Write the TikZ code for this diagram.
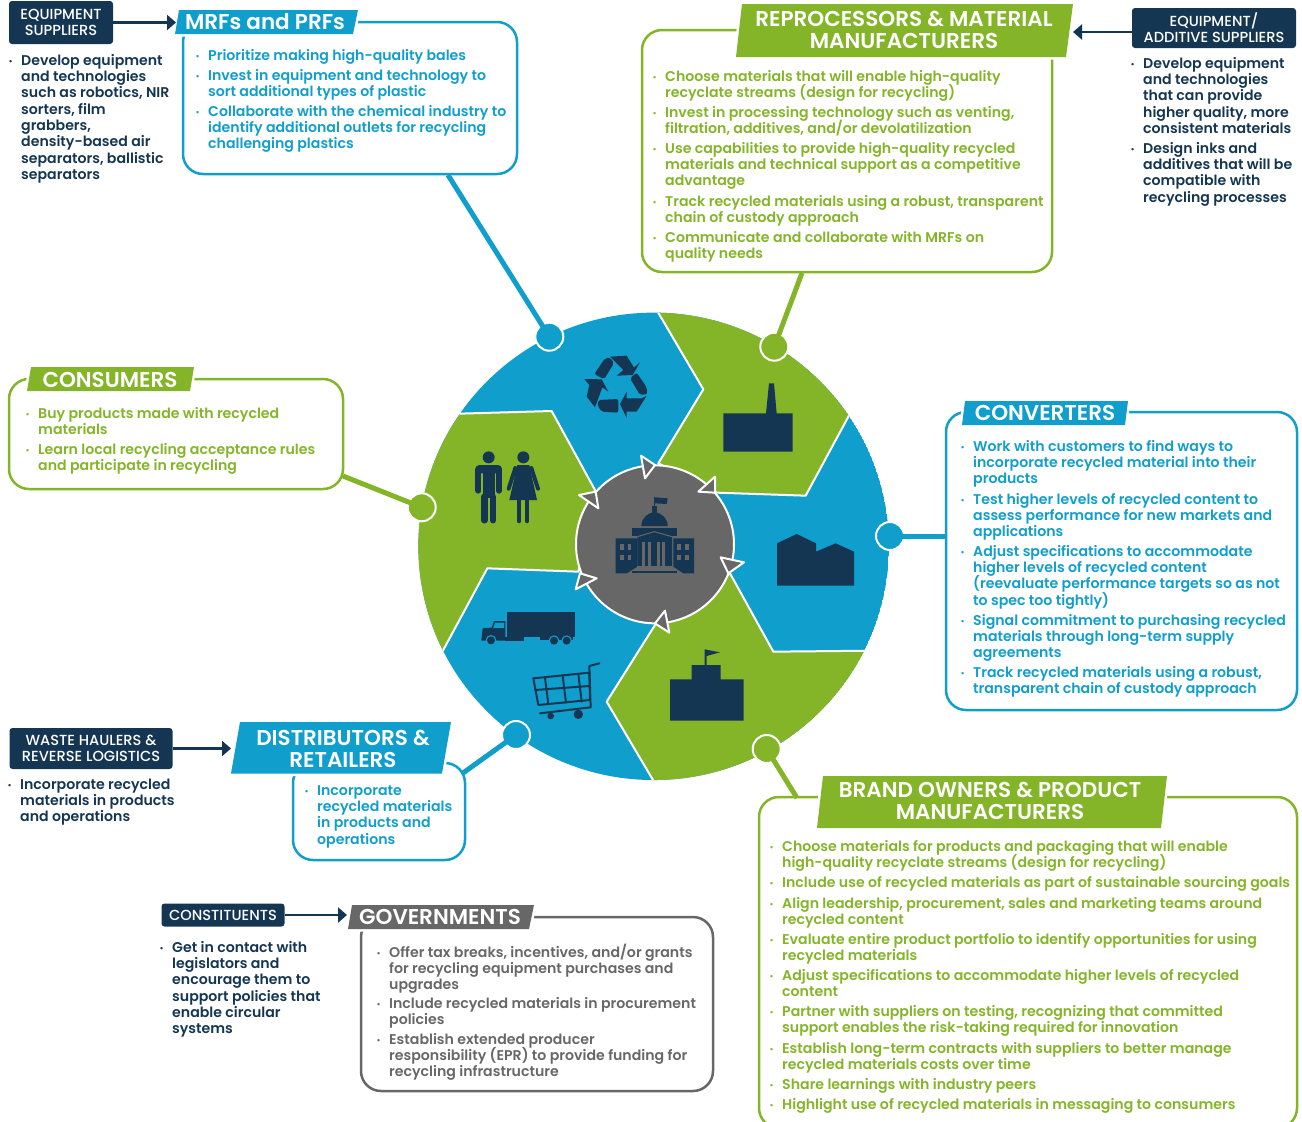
\documentclass[tikz,border=0pt]{standalone}
\usepackage{fontspec}
\setmainfont{Poppins}
\newfontfamily\bodyfont{Poppins SemiBold}
\newfontfamily\headfont{Poppins SemiBold}
\newfontfamily\tagfont{Poppins Medium}
\usetikzlibrary{arrows.meta}
\definecolor{cblue}{RGB}{16,158,204}
\definecolor{cgreen}{RGB}{132,181,41}
\definecolor{cnavy}{RGB}{20,54,82}
\definecolor{cgray}{RGB}{103,103,103}
\tikzset{
  every node/.append style={execute at begin node={\lineskiplimit=-50pt }},
  bxs/.style={draw=#1,line width=2.5pt,rounded corners=20pt,inner sep=0pt},
  srcbox/.style={fill=cnavy,rounded corners=3pt,inner sep=0pt,text=white,align=center,
     font=\tagfont\fontsize{14.6}{16}\selectfont},
  headtxt/.style={text=white,align=center,inner sep=0pt,
     font=\headfont\fontsize{21.5}{21.5}\selectfont},
  hdr/.style={fill=#1,preaction={draw=white,line width=5pt}},
  body/.style={anchor=north west,inner sep=0pt,align=left,text=#1,
     font=\bodyfont\fontsize{14.14}{16.3}\selectfont},
  pinn/.style={circle,fill=#1,draw=white,line width=2pt,minimum size=28pt,inner sep=0pt},
  conn/.style={draw=#1,line width=5pt,shorten >=-3pt},
  arr/.style={draw=cnavy,line width=2.4pt,-{Triangle[length=9pt,width=15pt]}},
  tri/.style={fill=cgray,draw=white,line width=2pt,line join=round},
  ink/.style={fill=cnavy},
  stroke/.style={draw=cnavy,line width=#1,line cap=round},
  seg/.style={fill=cgreen,draw=white,line width=2pt,line join=round},
}
\newcommand{\bxn}[6]{%
  \pgfmathsetmacro{\bw}{#4-#2}\pgfmathsetmacro{\bh}{#5-#3}%
  \pgfmathsetmacro{\bcx}{(#4+#2)/2}\pgfmathsetmacro{\bcy}{(#5+#3)/2}%
  \node[bxs=#6,minimum width=\bw pt,minimum height=\bh pt] (#1) at (\bcx,\bcy) {};}
\newcommand{\itm}[5]{\node[body=#4] (#1) at (#2,#3-6.4) {\strut\llap{\raisebox{1pt}{\scalebox{.6}{•}}\hspace{8.5pt}}#5};}
\begin{document}
\begin{tikzpicture}[x=1pt,y=-1pt]
\useasboundingbox (0,0) rectangle (1302,1122);

% central wheel, in coordinates of 1/3 px
\begin{scope}[shift={(410,300)},x=.33333pt,y=-.33333pt]
  \begin{scope}
    \clip (731,739) circle[x radius=235.3pt,y radius=233.7pt];
    \fill[cblue] (731,739) circle[x radius=235.3pt,y radius=233.7pt];
    \path[seg] (677,-77) -- (880,268) -- (745,490) -- (920,578) -- (1187,587) -- (1380,230) -- (1500,-100) -- cycle;
    \path[seg] (1600,1050) -- (1090,1055) -- (960,820) -- (735,975) -- (590,1205) -- (800,1560) -- (1600,1560) -- cycle;
    \path[seg] (-60,347) -- (425,333) -- (555,570) -- (505,815) -- (232,805) -- (35,1170) -- (-100,1200) -- (-100,347) -- cycle;
  \end{scope}
  \fill[cgray,draw=white,line width=2pt] (735,733) circle[radius=237pt*.33333];
  \path[tri] (693,467) -- (735,495) -- (705,535) -- cycle;
  \path[tri] (915,530) -- (865,575) -- (915,578) -- cycle;
  \path[tri] (932,772) -- (1002,787) -- (955,820) -- cycle;
  \path[tri] (765,932) -- (735,970) -- (778,998) -- cycle;
  \path[tri] (560,835) -- (510,820) -- (497,868) -- cycle;
  \path[tri] (507,585) -- (557,575) -- (565,625) -- cycle;
  % factory
  \fill[ink] (940,340) -- (1068,340) -- (1077,250) -- (1092,250) -- (1100,340) -- (1148,340) -- (1148,455) -- (940,455) -- cycle;
  % converter building
  \fill[ink] (1101,730) -- (1160,702) -- (1218,730) -- (1218,755) -- (1277,730) -- (1332,755) -- (1332,857) -- (1101,857) -- cycle;
  % brand owner building
  \fill[ink] (780,1138) -- (845,1138) -- (845,1095) -- (884,1095) -- (884,1048) -- (930,1057) -- (890,1068) -- (890,1095) -- (932,1095) -- (932,1138) -- (1001,1138) -- (1001,1262) -- (780,1262) -- cycle;
  % man
  \fill[ink] (236,472) circle[radius=18pt*.33333];
  \fill[ink,rounded corners=4pt] (196,495) rectangle (276,520);
  \draw[stroke=6pt] (205,510) -- (205,572);
  \draw[stroke=6pt] (267,510) -- (267,572);
  \fill[ink] (218,500) rectangle (254,595);
  \draw[stroke=6.4pt] (223,590) -- (223,661);
  \draw[stroke=6.4pt] (249,590) -- (249,661);
  % woman
  \fill[ink] (340,472) circle[radius=18pt*.33333];
  \fill[ink] (322,495) -- (358,495) -- (381,600) -- (298,600) -- cycle;
  \draw[stroke=4pt] (316,504) -- (296,566);
  \draw[stroke=4pt] (364,504) -- (384,566);
  \draw[stroke=4.6pt] (327,600) -- (327,663);
  \draw[stroke=4.6pt] (351,600) -- (351,663);
  % truck
  \fill[ink] (292,936) rectangle (494,1012);
  \fill[ink] (286,1022) -- (214,1022) -- (218,985) -- (245,983) -- (252,963) -- (286,963) -- cycle;
  \fill[cblue] (255,968) -- (282,968) -- (282,984) -- (250,984) -- cycle;
  \fill[ink] (286,1012) rectangle (342,1022);
  \fill[ink] (390,1008) rectangle (490,1020);
  \foreach \wx/\wy in {243/1021,432/1022,470/1022}{
    \fill[cblue] (\wx,\wy) circle[radius=16pt*.33333];
    \fill[ink] (\wx,\wy) circle[radius=12pt*.33333];
  }
  % cart
  \draw[stroke=2pt,line join=round] (568,1090) -- (538,1098) -- (542,1222) -- (390,1240);
  \draw[stroke=2pt,line join=round] (370,1135) -- (538,1118) -- (540,1200) -- (385,1215) -- cycle;
  \draw[stroke=2pt] (405,1133) -- (415,1212);
  \draw[stroke=2pt] (458,1128) -- (468,1208);
  \draw[stroke=2pt] (505,1122) -- (515,1205);
  \draw[stroke=2pt] (375,1170) -- (538,1158);
  \fill[ink] (422,1248) circle[radius=10pt*.33333];
  \fill[ink] (505,1243) circle[radius=14pt*.33333];
  % recycling symbol
  \fill[ink,rounded corners=2pt] (553,222) -- (585,175) -- (600,172) -- (612,190) -- (582,238) -- cycle;
  \fill[ink] (600,170) -- (650,167) -- (672,203) -- (690,187) -- (668,225) -- (620,227) -- (640,210) -- cycle;
  \fill[ink,rounded corners=2pt] (660,235) -- (680,218) -- (710,262) -- (712,282) -- (690,285) -- cycle;
  \fill[ink] (710,287) -- (680,335) -- (650,335) -- (650,354) -- (630,312) -- (650,275) -- (650,295) -- (695,295) -- cycle;
  \fill[ink,rounded corners=2pt] (565,300) -- (625,297) -- (625,338) -- (575,335) -- (563,318) -- cycle;
  \fill[ink] (523,237) -- (575,238) -- (595,275) -- (577,262) -- (555,322) -- (530,290) -- (538,255) -- cycle;
  % capitol
  \fill[ink] (617,715) -- (682,715) -- (682,800) -- (650,820) -- (617,820) -- cycle;
  \fill[ink] (790,715) -- (852,715) -- (852,820) -- (820,820) -- (790,800) -- cycle;
  \fill[ink] (667,685) rectangle (802,708);
  \fill[ink] (694,678) arc[start angle=180,end angle=0,x radius=13.2pt,y radius=13.5pt] -- cycle;
  \fill[ink] (725,618) rectangle (742,640);
  \fill[ink] (731,590) rectangle (736,628);
  \fill[ink] (735,592) -- (773,595) -- (770,612) -- (735,610) -- cycle;
  \fill[ink] (682,708) -- (733,690) -- (786,708) -- (786,800) -- (682,800) -- cycle;
  \fill[ink] (665,812) rectangle (802,820);
  \draw[cgray,line width=1pt] (682,710) -- (733,695) -- (786,710);
  \foreach \gx in {697,740}{\fill[cgray] (\gx,725) rectangle +(9,75);\fill[cgray] (\gx+16,725) rectangle +(9,75);}
  \draw[cgray,line width=1pt] (682,800) -- (786,800);
  \foreach \gx/\gy in {630/733,653/733,630/765,653/765,802/733,825/733,802/765,825/765}{
    \fill[cgray] (\gx,\gy) rectangle +(11,16);}
\end{scope}

% pins on the wheel
\node[pinn=cblue] (pmrf) at (549.3,336.7) {};
\node[pinn=cgreen] (prep) at (774.3,346.7) {};
\node[pinn=cblue] (pcon) at (890,536) {};
\node[pinn=cgreen] (pbrand) at (766.7,749) {};
\node[pinn=cblue] (pdist) at (516,735) {};
\node[pinn=cgreen] (pcons) at (421.7,507.3) {};

% outlined boxes
\bxn{bmrf}{183}{22}{517}{174}{cblue}
\bxn{brep}{642}{30}{1052}{272}{cgreen}
\bxn{bcon}{946}{412}{1297}{710}{cblue}
\bxn{bbrand}{759}{797}{1297}{1128}{cgreen}
\bxn{bdist}{293}{763}{465}{860}{cblue}
\bxn{bgov}{361}{917}{713}{1091}{cgray}
\bxn{bcons}{9}{379}{343}{489}{cgreen}

% connectors from boxes to pins
\coordinate (cmrf) at (448,175);
\coordinate (crep) at (802,273);
\coordinate (ccon) at (946,536);
\coordinate (cbrand) at (797,798);
\coordinate (cdist) at (463,773);
\coordinate (ccons) at (343,476);
\draw[conn=cblue] (cmrf) -- (pmrf);
\draw[conn=cgreen] (crep) -- (prep);
\draw[conn=cblue] (ccon) -- (pcon);
\draw[conn=cgreen] (cbrand) -- (pbrand);
\draw[conn=cblue] (cdist) -- (pdist);
\draw[conn=cgreen] (ccons) -- (pcons);

% headers
\path[hdr=cblue] (179,10) -- (358,10) -- (353,34) -- (175,34) -- cycle;
\node[headtxt] (hmrf) at (265,21.5) {MRFs and PRFs};
\path[hdr=cgreen] (742,4) -- (1073,4) -- (1066,57) -- (736,57) -- cycle;
\node[headtxt] (hrep) at (904,30) {REPROCESSORS \& MATERIAL\\MANUFACTURERS};
\path[hdr=cgreen] (31,367) -- (194,367) -- (190,391) -- (27,391) -- cycle;
\node[headtxt] (hcons) at (110,379.5) {CONSUMERS};
\path[hdr=cblue] (965,401) -- (1128,401) -- (1125,425) -- (962,425) -- cycle;
\node[headtxt] (hcon) at (1045,413) {CONVERTERS};
\path[hdr=cgreen] (823,776) -- (1167,776) -- (1161,828) -- (817,828) -- cycle;
\node[headtxt] (hbrand) at (990,801) {BRAND OWNERS \& PRODUCT\\MANUFACTURERS};
\path[hdr=cblue] (240,722) -- (451,722) -- (442,773.5) -- (231,773.5) -- cycle;
\node[headtxt] (hdist) at (343,749) {DISTRIBUTORS \&\\RETAILERS};
\path[hdr=cgray] (352,905) -- (534,905) -- (529,929) -- (348,929) -- cycle;
\node[headtxt] (hgov) at (440,917) {GOVERNMENTS};

% stakeholder tags and arrows
\node[srcbox,minimum width=104pt,minimum height=43pt] (seq) at (61,22.5) {EQUIPMENT\\SUPPLIERS};
\coordinate (aeq) at (176,22.5);
\draw[arr] (seq.east) -- (aeq);
\node[srcbox,minimum width=164pt,minimum height=40pt] (sadd) at (1214,28) {EQUIPMENT/\\ADDITIVE SUPPLIERS};
\coordinate (aadd) at (1073,32);
\draw[arr] ([yshift=-4pt]sadd.west) -- (aadd);
\node[srcbox,minimum width=163pt,minimum height=41pt] (swaste) at (91,748.5) {WASTE HAULERS \&\\REVERSE LOGISTICS};
\coordinate (awaste) at (231,748.5);
\draw[arr] (swaste.east) -- (awaste);
\node[srcbox,minimum width=123pt,minimum height=23pt] (sgov) at (223,915) {CONSTITUENTS};
\coordinate (agov) at (347,915);
\draw[arr] (sgov.east) -- (agov);

% lists
\itm{e1}{21}{60}{cnavy}{Develop equipment\\and technologies\\such as robotics, NIR\\sorters, film\\grabbers,\\density-based air\\separators, ballistic\\separators}
\itm{m1}{208}{55}{cblue}{Prioritize making high-quality bales}
\itm{m2}{208}{75}{cblue}{Invest in equipment and technology to\\sort additional types of plastic}
\itm{m3}{208}{111}{cblue}{Collaborate with the chemical industry to\\identify additional outlets for recycling\\challenging plastics}
\itm{r1}{665}{76}{cgreen}{Choose materials that will enable high-quality\\recyclate streams (design for recycling)}
\itm{r2}{665}{112}{cgreen}{Invest in processing technology such as venting,\\filtration, additives, and/or devolatilization}
\itm{r3}{665}{148}{cgreen}{Use capabilities to provide high-quality recycled\\materials and technical support as a competitive\\advantage}
\itm{r4}{665}{201}{cgreen}{Track recycled materials using a robust, transparent\\chain of custody approach}
\itm{r5}{665}{237}{cgreen}{Communicate and collaborate with MRFs on\\quality needs}
\itm{a1}{1143}{63}{cnavy}{Develop equipment\\and technologies\\that can provide\\higher quality, more\\consistent  materials}
\itm{a2}{1143}{148}{cnavy}{Design inks and\\additives that will be\\compatible with\\recycling processes}
\itm{c1}{38}{413}{cgreen}{Buy products made with recycled\\materials}
\itm{c2}{38}{449}{cgreen}{Learn local recycling acceptance rules\\and participate in recycling}
\itm{k1}{973}{446}{cblue}{Work with customers to find ways to\\incorporate recycled material into their\\products}
\itm{k2}{973}{499}{cblue}{Test higher levels of recycled content to\\assess performance for new markets and\\applications}
\itm{k3}{973}{551}{cblue}{Adjust specifications to accommodate\\higher levels of recycled content\\(reevaluate performance targets so as not\\to spec too tightly)}
\itm{k4}{973}{620}{cblue}{Signal commitment to purchasing recycled\\materials through long-term supply\\agreements}
\itm{k5}{973}{672}{cblue}{Track recycled materials using a robust,\\transparent chain of custody approach}
\itm{w1}{20}{784}{cnavy}{Incorporate recycled\\materials in products\\and operations}
\itm{d1}{317}{790}{cblue}{Incorporate\\recycled materials\\in products and\\operations}
\itm{t1}{172}{947}{cnavy}{Get in contact with\\legislators and\\encourage them to\\support policies that\\enable circular\\systems}
\itm{g1}{389}{950}{cgray}{Offer tax breaks, incentives, and/or grants\\for recycling equipment purchases and\\upgrades}
\itm{g2}{389}{1003}{cgray}{Include recycled materials in procurement\\policies}
\itm{g3}{389}{1039}{cgray}{Establish extended producer\\responsibility (EPR) to provide funding for\\recycling infrastructure}
\itm{b1}{782}{846}{cgreen}{Choose materials for products and packaging that will enable\\high-quality recyclate streams (design for recycling)}
\itm{b2}{782}{882}{cgreen}{Include use of recycled materials as part of sustainable sourcing goals}
\itm{b3}{782}{903}{cgreen}{Align leadership, procurement, sales and marketing teams around\\recycled content}
\itm{b4}{782}{939}{cgreen}{Evaluate entire product portfolio to identify opportunities for using\\recycled materials}
\itm{b5}{782}{975}{cgreen}{Adjust specifications to accommodate higher levels of recycled\\content}
\itm{b6}{782}{1011}{cgreen}{Partner with suppliers on testing, recognizing that committed\\support enables the risk-taking required for innovation}
\itm{b7}{782}{1048}{cgreen}{Establish long-term contracts with suppliers to better manage\\recycled materials costs over time}
\itm{b8}{782}{1084}{cgreen}{Share learnings with industry peers}
\itm{b9}{782}{1104}{cgreen}{Highlight use of recycled materials in messaging to consumers}
\end{tikzpicture}
\end{document}
